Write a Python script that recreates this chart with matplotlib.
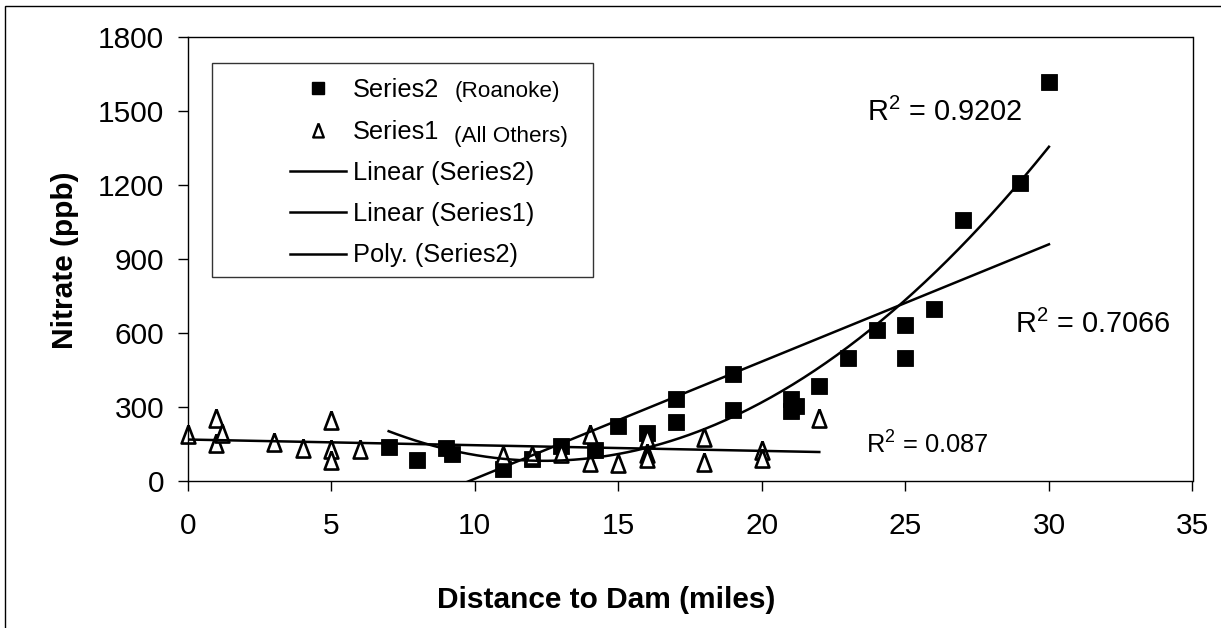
import numpy as np
import matplotlib.pyplot as plt
from matplotlib.lines import Line2D
from matplotlib.patches import Rectangle

plt.rcParams['font.family'] = ['Liberation Sans', 'DejaVu Sans']
plt.rcParams['mathtext.fontset'] = 'custom'
plt.rcParams['mathtext.rm'] = 'Liberation Sans'
plt.rcParams['mathtext.it'] = 'Liberation Sans'

# --- Messwerte --- #
# Series2: Roanoke
dist_roanoke = np.array([7, 8, 9, 9.2, 11, 12, 13, 14.2, 15, 16, 17, 17, 19, 19,
                         21, 21, 21.2, 22, 23, 24, 25, 25, 26, 27, 29, 30])
nitrate_roanoke = np.array([140, 85, 135, 110, 50, 90, 145, 125, 225, 195, 335, 240, 435, 290,
                            335, 285, 305, 385, 500, 615, 635, 500, 700, 1060, 1210, 1620])

# Series1: alle anderen
dist_others = np.array([0, 1, 1, 1.2, 3, 4, 5, 5, 5, 6, 11, 12, 13, 14, 14, 15,
                        16, 16, 16, 18, 18, 20, 20, 22])
nitrate_others = np.array([190, 255, 155, 195, 160, 135, 250, 130, 85, 130, 105, 105, 115, 190, 80, 75,
                           175, 115, 95, 180, 80, 125, 95, 255])

r2_labels = [r'R$^2$ = 0.9202', r'R$^2$ = 0.7066', r'R$^2$ = 0.087']

x_ticks = np.arange(0, 36, 5)
y_ticks = np.arange(0, 1801, 300)

# --- Trendlinien --- #
lin2 = np.polyfit(dist_roanoke, nitrate_roanoke, 1)
poly2 = np.polyfit(dist_roanoke, nitrate_roanoke, 2)
lin1 = np.polyfit(dist_others, nitrate_others, 1)
xs2 = np.linspace(dist_roanoke.min(), dist_roanoke.max(), 300)
xs1 = np.linspace(dist_others.min(), dist_others.max(), 300)

# --- Plot --- #
W, H = 1221, 628
fig = plt.figure(figsize=(W / 100, H / 100), dpi=100)
ax = fig.add_axes([187.7 / W, (H - 481.3) / H, (1192.5 - 187.7) / W, 444 / H])

# schmales Dreieck als Marker
tri = [(0, 1), (-0.76, -1), (0.76, -1), (0, 1)]

ax.plot(dist_roanoke, nitrate_roanoke, ls='none', marker='s', ms=11.5,
        mfc='black', mec='black', mew=0.6, zorder=2, clip_on=False)
ax.plot(dist_others, nitrate_others, ls='none', marker=tri, ms=13,
        mfc='white', mec='black', mew=1.9, zorder=2, clip_on=False)

ax.plot(xs2, np.polyval(lin2, xs2), color='black', lw=1.8, zorder=3)
ax.plot(xs1, np.polyval(lin1, xs1), color='black', lw=1.8, zorder=3)
ax.plot(xs2, np.polyval(poly2, xs2), color='black', lw=1.8, zorder=3)

# Bestimmtheitsmaße
ax.text(23.65, 1462, r2_labels[0], fontsize=20.8, ha='left', va='baseline')
ax.text(28.82, 600, r2_labels[1], fontsize=20.8, ha='left', va='baseline')
ax.text(23.63, 113.5, r2_labels[2], fontsize=18.4, ha='left', va='baseline')

ax.set_xlim(0, 35)
ax.set_ylim(0, 1800)
ax.set_xticks(x_ticks)
ax.set_yticks(y_ticks)
ax.tick_params(labelsize=21.5, length=7.5, width=1, direction='out')
ax.tick_params(axis='x', pad=14.4)
ax.tick_params(axis='y', pad=9.5)
for sp in ax.spines.values():
    sp.set_color('black')
    sp.set_linewidth(1.0)

# Achsenbeschriftungen
fig.text(606.5 / W, (H - 608) / H, 'Distance to Dam (miles)', fontsize=21.5,
         fontweight='bold', ha='center', va='baseline')
fig.text(65 / W, (H - 260) / H, 'Nitrate (ppb)', fontsize=21.5, fontweight='bold',
         rotation=90, ha='center', va='center')

# Legende
ax.add_patch(Rectangle((0.0242, 0.460), 0.3792, 0.482, transform=ax.transAxes,
                       facecolor='white', edgecolor='#333333', lw=1.0, zorder=4))
handles = [
    Line2D([], [], ls='none', marker='s', ms=9, mfc='black', mec='black'),
    Line2D([], [], ls='none', marker=tri, ms=10, mfc='white', mec='black', mew=1.7),
    Line2D([], [], color='black', lw=1.8),
    Line2D([], [], color='black', lw=1.8),
    Line2D([], [], color='black', lw=1.8),
]
labels = ['Series2', 'Series1', 'Linear (Series2)', 'Linear (Series1)', 'Poly. (Series2)']
leg = ax.legend(handles, labels, loc='upper left', bbox_to_anchor=(0.1018, 0.9077),
                frameon=False, borderpad=0, borderaxespad=0, handlelength=2.2,
                handletextpad=0.28, labelspacing=0.68, fontsize=18.3, numpoints=1)
leg.set_zorder(5)
ax.text(0.266, 0.8775, '(Roanoke)', fontsize=16.2, transform=ax.transAxes,
        ha='left', va='center', zorder=6)
ax.text(0.2653, 0.7777, '(All Others)', fontsize=16.2, transform=ax.transAxes,
        ha='left', va='center', zorder=6)

# Rahmen um das Diagramm
fig.patches.append(Rectangle((5 / W, -0.1), 1.2, (H - 6) / H + 0.1, transform=fig.transFigure,
                             fill=False, edgecolor='black', lw=1.0))

fig.savefig('out.png', dpi=100)
